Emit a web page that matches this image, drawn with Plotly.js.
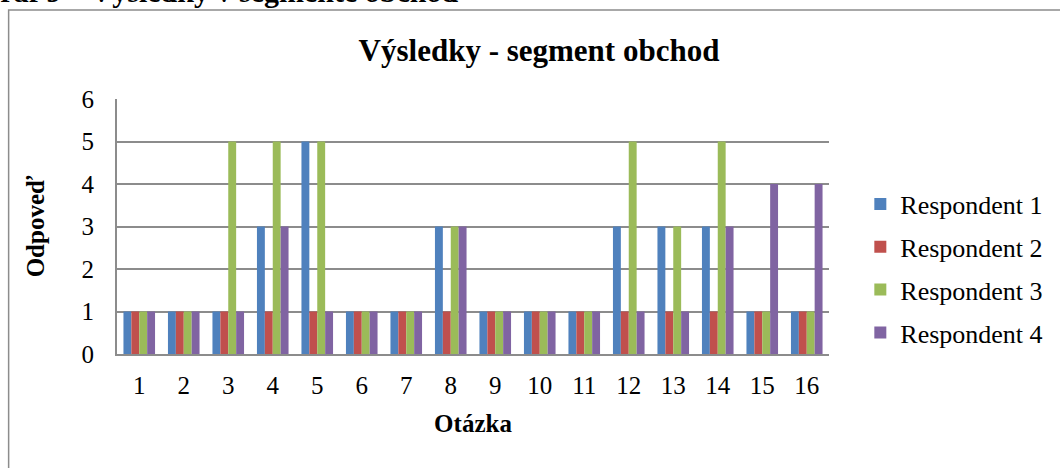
<!DOCTYPE html>
<html>
<head>
<meta charset="utf-8">
<script src="https://cdn.plot.ly/plotly-3.0.1.min.js"></script>
<style>
  body { margin: 0; background: #fff; }
  #chart { width: 1060px; height: 468px; }
</style>
</head>
<body>
<div id="chart"></div>
<script>
var questions = ['1', '2', '3', '4', '5', '6', '7', '8', '9', '10', '11', '12', '13', '14', '15', '16'];
var seriesNames = ['Respondent 1', 'Respondent 2', 'Respondent 3', 'Respondent 4'];
var respondent1 = [1, 1, 1, 3, 5, 1, 1, 3, 1, 1, 1, 3, 3, 3, 1, 1];
var respondent2 = [1, 1, 1, 1, 1, 1, 1, 1, 1, 1, 1, 1, 1, 1, 1, 1];
var respondent3 = [1, 1, 5, 5, 5, 1, 1, 3, 1, 1, 1, 5, 3, 5, 1, 1];
var respondent4 = [1, 1, 1, 3, 1, 1, 1, 3, 1, 1, 1, 1, 1, 3, 4, 4];
var colors = ['#4f81bd', '#c0504d', '#9bbb59', '#8064a2'];

var serif = 'Liberation Serif';
var allValues = [respondent1, respondent2, respondent3, respondent4];

var data = allValues.map(function (vals, i) {
    return {
        x: questions,
        y: vals,
        name: seriesNames[i],
        legendgroup: 'g' + i,
        type: 'bar',
        marker: {color: colors[i]}
    };
});

// plot area: x 117..833, y 99..354
var layout = {
    width: 1060,
    height: 468,
    margin: {l: 117, r: 227, t: 99, b: 114},
    paper_bgcolor: '#ffffff',
    plot_bgcolor: '#ffffff',
    font: {family: serif, color: '#000', size: 25},
    barmode: 'group',
    bargap: 0.29,
    bargroupgap: 0,
    showlegend: true,
    title: {
        text: '<b>Výsledky - segment obchod</b>',
        font: {family: serif, size: 31, color: '#000'},
        x: 0.5085, xanchor: 'center',
        y: 0.893, yanchor: 'middle'
    },
    xaxis: {
        type: 'category',
        title: {text: '<b>Otázka</b>', font: {family: serif, size: 25}, standoff: 16},
        showline: true, linecolor: '#8c8c8c', linewidth: 2,
        showgrid: false,
        ticks: 'outside', ticklen: 8, tickcolor: 'rgba(0,0,0,0)',
        tickfont: {family: serif, size: 25}
    },
    yaxis: {
        range: [0, 6],
        dtick: 1,
        title: {text: '<b>Odpoveď</b>', font: {family: serif, size: 25}, standoff: 30},
        showline: true, linecolor: '#8c8c8c', linewidth: 2,
        showgrid: true, gridcolor: '#8c8c8c', gridwidth: 2,
        zeroline: false,
        ticks: 'outside', ticklen: 16, tickcolor: 'rgba(0,0,0,0)',
        tickfont: {family: serif, size: 25}
    },
    legend: {
        x: 1.044, xanchor: 'left',
        y: 0.335, yanchor: 'middle',
        traceorder: 'grouped',
        tracegroupgap: 6,
        itemwidth: 30,
        font: {family: serif, size: 26, color: '#000'},
        bgcolor: 'rgba(0,0,0,0)'
    },
    shapes: [{
        type: 'rect', xref: 'paper', yref: 'paper',
        x0: -0.1522, x1: 1.6, y0: -1.2, y1: 1.349,
        line: {color: '#8c8c8c', width: 1.5},
        fillcolor: 'rgba(0,0,0,0)'
    }],
    annotations: [{
        text: '<b>Graf 9 – Výsledky v segmente obchod</b>',
        xref: 'paper', yref: 'paper',
        x: (462 - 117) / 716, xanchor: 'right',
        y: (354 - 10) / 255, yanchor: 'bottom',
        showarrow: false,
        font: {family: serif, size: 30, color: '#000'}
    }]
};

Plotly.newPlot('chart', data, layout, {staticPlot: true, displayModeBar: false});
</script>
</body>
</html>
